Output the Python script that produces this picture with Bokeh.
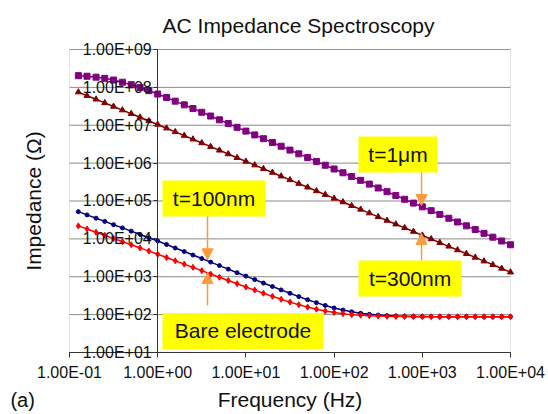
from bokeh.plotting import figure
from bokeh.models import (FixedTicker, CustomJSTickFormatter, Label, Arrow, NormalHead,
                          BoxAnnotation)
from bokeh.core.properties import value
from bokeh.embed import file_html
from bokeh.resources import INLINE

# ---------------- data ----------------
freq = [0.126, 0.158, 0.2, 0.251, 0.316, 0.398, 0.501, 0.631, 0.794,
        1.0, 1.26, 1.58, 2.0, 2.51, 3.16, 3.98, 5.01, 6.31, 7.94,
        10, 12.6, 15.8, 20, 25.1, 31.6, 39.8, 50.1, 63.1, 79.4,
        100, 126, 158, 200, 251, 316, 398, 501, 631, 794,
        1000, 1260, 1580, 2000, 2510, 3160, 3980, 5010, 6310, 7940,
        10000]

z_1um = [2.04e8, 1.97e8, 1.86e8, 1.73e8, 1.56e8, 1.37e8, 1.18e8, 9.9e7, 8.18e7,
         6.67e7, 5.39e7, 4.33e7, 3.46e7, 2.76e7, 2.20e7, 1.75e7, 1.39e7, 1.11e7, 8.81e6,
         7.0e6, 5.56e6, 4.42e6, 3.51e6, 2.79e6, 2.21e6, 1.76e6, 1.40e6, 1.11e6, 8.8e5,
         7.0e5, 5.56e5, 4.42e5, 3.51e5, 2.79e5, 2.21e5, 1.76e5, 1.40e5, 1.11e5, 8.8e4,
         7.0e4, 5.56e4, 4.42e4, 3.51e4, 2.79e4, 2.21e4, 1.76e4, 1.40e4, 1.11e4, 8.8e3,
         7.0e3]

z_300nm = [7.50e7, 6.03e7, 4.84e7, 3.89e7, 3.13e7, 2.51e7, 2.02e7, 1.62e7, 1.30e7,
           1.05e7, 8.36e6, 6.68e6, 5.34e6, 4.27e6, 3.41e6, 2.72e6, 2.18e6, 1.74e6, 1.39e6,
           1.11e6, 8.86e5, 7.08e5, 5.65e5, 4.52e5, 3.61e5, 2.88e5, 2.30e5, 1.84e5, 1.47e5,
           1.17e5, 9.39e4, 7.50e4, 5.99e4, 4.79e4, 3.82e4, 3.05e4, 2.44e4, 1.95e4, 1.56e4,
           1.24e4, 9.94e3, 7.94e3, 6.35e3, 5.07e3, 4.05e3, 3.24e3, 2.58e3, 2.07e3, 1.65e3,
           1.32e3]

z_100nm = [5.24e4, 4.30e4, 3.52e4, 2.89e4, 2.37e4, 1.95e4, 1.60e4, 1.31e4, 1.07e4,
           8.81e3, 7.11e3, 5.74e3, 4.63e3, 3.74e3, 3.02e3, 2.44e3, 1.97e3, 1.59e3, 1.28e3,
           1040, 841, 681, 552, 449, 366, 299, 247, 207, 175,
           150, 132, 118.5, 108.8, 102, 97.4, 94.2, 92.1, 90.7, 89.8,
           89.2, 88.8, 88.5, 88.3, 88.2, 88.1, 88.1, 88, 88, 88,
           88]

z_bare = [2.20e4, 1.82e4, 1.50e4, 1.24e4, 1.02e4, 8.45e3, 6.98e3, 5.77e3, 4.76e3,
          3.94e3, 3.22e3, 2.64e3, 2.16e3, 1.77e3, 1.45e3, 1.18e3, 972, 798, 655,
          538, 444, 367, 304, 254, 214, 183, 158, 139, 124,
          114, 106, 100, 96.4, 93.7, 91.8, 90.6, 89.7, 89.2, 88.8,
          88.5, 88.3, 88.2, 88.1, 88.1, 88, 88, 88, 88, 88,
          88]

x_ticks = [0.1, 1, 10, 100, 1000, 10000]
y_ticks = [1e1, 1e2, 1e3, 1e4, 1e5, 1e6, 1e7, 1e8, 1e9]

title_text = "AC Impedance Spectroscopy"
x_label = "Frequency (Hz)"
y_label = "Impedance (\u03a9)"
panel_tag = "(a)"

# callout texts and anchor points (Hz, Ohm)
ann_text = ["t=1\u03bcm", "t=300nm", "t=100nm", "Bare electrode"]
ann_x = [530, 726, 4.35, 9.27]
ann_y = [1.69e6, 900, 1.16e5, 37]
arr_x = [980, 980, 3.67, 3.67]
arr_y0 = [5.65e5, 2.7e3, 3.9e4, 174]
arr_y1 = [7.6e4, 1.38e4, 2.8e3, 1.29e3]

# ---------------- layout / styling ----------------
FONT = "Liberation Sans"
ORANGE = "#FF9A3C"
TXT = "#111111"
AXC = "#333333"
box_w = [79, 103, 103, 161]   # callout box widths, px
BOX_H = 36

# The plotting area covers the whole canvas; the axes cross inside it, as in
# the source chart (y axis at 1 Hz, x axis at 10 Ohm, labels drawn around them).
X_VIEW = (10 ** -1.7823, 10 ** 4.4308)
Y_VIEW = (10 ** -0.637, 10 ** 10.2937)
X_SPAN = (x_ticks[0], x_ticks[-1])
Y_SPAN = (y_ticks[0], y_ticks[-1])

fmt = CustomJSTickFormatter(code=r"""
const s = tick.toExponential(2).toUpperCase();
const m = s.match(/^(-?[\d.]+)E([+-])(\d+)$/);
if (!m) return s;
return m[1] + 'E' + m[2] + (m[3].length < 2 ? '0' + m[3] : m[3]);
""")

p = figure(width=548, height=414, x_axis_type="log", y_axis_type="log",
           x_range=X_VIEW, y_range=Y_VIEW,
           output_backend="svg", toolbar_location=None,
           min_border=0, min_border_left=0, min_border_right=0,
           min_border_top=0, min_border_bottom=0)

p.background_fill_color = "white"
p.border_fill_color = "white"
p.outline_line_color = None
p.xgrid.visible = False
p.ygrid.visible = False

# horizontal gridlines at each decade, only across the plot area
p.segment(x0=X_SPAN[0], y0=y_ticks, x1=X_SPAN[1], y1=y_ticks,
          line_color="#8a8a8a", line_width=1, level="underlay")
# plot-area border
p.add_layout(BoxAnnotation(left=X_SPAN[0], right=X_SPAN[1], bottom=Y_SPAN[0], top=Y_SPAN[1],
                           fill_color=None, line_color="#a8a8a8", line_width=1,
                           level="underlay"))

# x axis, crossing at 10 Ohm
xa = p.xaxis[0]
xa.fixed_location = y_ticks[0]
xa.bounds = X_SPAN
xa.ticker = FixedTicker(ticks=x_ticks)
xa.formatter = fmt
xa.minor_tick_line_color = None
xa.major_tick_in = 0
xa.major_tick_out = 5
xa.major_tick_line_color = AXC
xa.axis_line_color = AXC
xa.major_label_text_font = FONT
xa.major_label_text_font_size = "16px"
xa.major_label_text_color = TXT
xa.major_label_standoff = 7
xa.axis_label = x_label
xa.axis_label_text_font = FONT
xa.axis_label_text_font_size = "21px"
xa.axis_label_text_font_style = "normal"
xa.axis_label_text_color = TXT
xa.axis_label_standoff = 3

# y axis, crossing at 1 Hz
ya = p.yaxis[0]
ya.fixed_location = 1
ya.bounds = Y_SPAN
ya.ticker = FixedTicker(ticks=y_ticks)
ya.formatter = fmt
ya.minor_tick_line_color = None
ya.major_tick_in = 0
ya.major_tick_out = 4
ya.major_tick_line_color = AXC
ya.axis_line_color = AXC
ya.major_label_text_font = FONT
ya.major_label_text_font_size = "16px"
ya.major_label_text_color = TXT
ya.major_label_standoff = 2
ya.axis_label = y_label
ya.axis_label_text_font = FONT
ya.axis_label_text_font_size = "21px"
ya.axis_label_text_font_style = "normal"
ya.axis_label_text_color = TXT
ya.axis_label_standoff = 35

# series
p.line(freq, z_1um, line_color="#800080", line_width=1.5)
p.scatter(freq, z_1um, marker="square", size=6, fill_color="#800080", line_color="#800080")
p.line(freq, z_300nm, line_color="#800000", line_width=1.5)
p.scatter(freq, z_300nm, marker="triangle", size=6, fill_color="#800000", line_color="#800000")
p.line(freq, z_100nm, line_color="#000080", line_width=1.5)
p.scatter(freq, z_100nm, marker="circle", size=4, fill_color="#000080", line_color="#000080")
p.line(freq, z_bare, line_color="#FF0000", line_width=1.5)
p.scatter(freq, z_bare, marker="diamond", size=6, fill_color="#FF0000", line_color="#FF0000")

# arrows
for xs, y0, y1 in zip(arr_x, arr_y0, arr_y1):
    p.add_layout(Arrow(end=NormalHead(size=11, fill_color=ORANGE, line_color=ORANGE),
                       x_start=xs, y_start=y0, x_end=xs, y_end=y1,
                       line_color=ORANGE, line_width=1.5))

# yellow callouts
p.rect(x=ann_x, y=ann_y, width=box_w, height=BOX_H, width_units="screen",
       height_units="screen", fill_color="#FFFF00", line_color=None)
p.text(x=ann_x, y=ann_y, text=ann_text, text_align="center", text_baseline="middle",
       text_font=value(FONT), text_font_size="21px", text_color=TXT)

# chart title (centred slightly right of the plot area, as in the source)
p.add_layout(Label(x=39.5, y=4.3e9, text=title_text, text_align="center",
                   text_baseline="alphabetic", text_font=FONT,
                   text_font_size="21px", text_color=TXT))

# panel tag, bottom-left corner
p.add_layout(Label(x=0.0214, y=0.55, text=panel_tag, text_align="left",
                   text_baseline="alphabetic", text_font=FONT,
                   text_font_size="20px", text_color=TXT))

open("out.html", "w").write(file_html(p, INLINE))
